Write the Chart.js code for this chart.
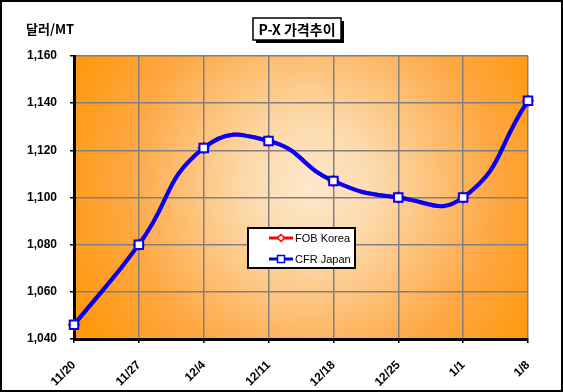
<!DOCTYPE html>
<html>
<head>
<meta charset="utf-8">
<script src="https://cdn.jsdelivr.net/npm/chart.js@4"></script>
<style>
  html, body { margin: 0; padding: 0; background: #fff; }
  #wrap { width: 563px; height: 392px; position: relative; }
</style>
</head>
<body>
<div id="wrap"><canvas id="pxChart" width="563" height="392"></canvas></div>
<script>
// data
const weeks = ["11/20", "11/27", "12/4", "12/11", "12/18", "12/25", "1/1", "1/8"];
const cfrJapan = [1046, 1080, 1121, 1124, 1107, 1100, 1100, 1141];
const fobKorea = [1046, 1080, 1121, 1124, 1107, 1100, 1100, 1141]; // hidden under CFR line
const yTicks = [1040, 1060, 1080, 1100, 1120, 1140, 1160];
const chartTitle = "P-X 가격추이";
const unitLabel = "달러/MT";

// plot background + frame + title + legend
const decorPlugin = {
  id: "decor",
  beforeDraw(chart) {
    const { ctx, chartArea: a } = chart;
    ctx.save();
    ctx.fillStyle = "#fff";
    ctx.fillRect(0, 0, chart.width, chart.height);
    const cx = (a.left + a.right) / 2 + 10, cy = (a.top + a.bottom) / 2 - 10;
    const r = Math.hypot(a.right - a.left, a.bottom - a.top) / 2;
    const g = ctx.createRadialGradient(cx, cy, 0, cx, cy, r);
    g.addColorStop(0, "#fde8cc");
    g.addColorStop(0.25, "#fcd9aa");
    g.addColorStop(0.7, "#fea640");
    g.addColorStop(1, "#ff980a");
    ctx.fillStyle = g;
    ctx.fillRect(a.left, a.top, a.right - a.left, a.bottom - a.top);
    ctx.restore();
  },
  afterDraw(chart) {
    const { ctx } = chart;
    ctx.save();
    // outer frame
    ctx.strokeStyle = "#000";
    ctx.lineWidth = 2;
    ctx.strokeRect(1, 1, chart.width - 2, chart.height - 2);

    // unit label
    ctx.fillStyle = "#000";
    ctx.font = "bold 13px 'Noto Sans CJK KR', 'Liberation Sans', sans-serif";
    ctx.textBaseline = "middle";
    ctx.textAlign = "left";
    ctx.fillText(unitLabel, 26, 29);

    // title box with shadow
    const tx = 253, ty = 18, tw = 88, th = 22;
    ctx.fillStyle = "#000";
    ctx.fillRect(tx + 3, ty + 3, tw, th);
    ctx.fillStyle = "#fff";
    ctx.fillRect(tx, ty, tw, th);
    ctx.lineWidth = 1.5;
    ctx.strokeRect(tx, ty, tw, th);
    ctx.fillStyle = "#000";
    ctx.font = "bold 14px 'Noto Sans CJK KR', 'Liberation Sans', sans-serif";
    ctx.textAlign = "center";
    ctx.fillText(chartTitle, tx + tw / 2, ty + th / 2 + 1);

    // legend box
    const lx = 248, ly = 228, lw = 107, lh = 40;
    ctx.fillStyle = "#fff";
    ctx.fillRect(lx, ly, lw, lh);
    ctx.strokeStyle = "#000";
    ctx.lineWidth = 2;
    ctx.strokeRect(lx, ly, lw, lh);
    const items = chart.data.datasets;
    items.forEach((ds, i) => {
      const y = ly + 10 + i * 21;
      ctx.strokeStyle = ds.borderColor;
      ctx.lineWidth = 3;
      ctx.beginPath();
      ctx.moveTo(lx + 21, y);
      ctx.lineTo(lx + 45, y);
      ctx.stroke();
      ctx.fillStyle = "#fff";
      ctx.lineWidth = 1.5;
      const mx = lx + 33;
      if (ds.pointStyle === "rectRot") {
        ctx.beginPath();
        ctx.moveTo(mx, y - 3.5); ctx.lineTo(mx + 3.5, y); ctx.lineTo(mx, y + 3.5); ctx.lineTo(mx - 3.5, y);
        ctx.closePath();
        ctx.fill(); ctx.stroke();
      } else {
        ctx.fillRect(mx - 3.5, y - 3.5, 7, 7);
        ctx.strokeRect(mx - 3.5, y - 3.5, 7, 7);
      }
      ctx.fillStyle = "#000";
      ctx.font = "11px 'Liberation Sans', Arial, sans-serif";
      ctx.textAlign = "left";
      ctx.fillText(ds.label, lx + 47, y + 1);
    });
    ctx.restore();
  }
};

const ctx = document.getElementById("pxChart").getContext("2d");
new Chart(ctx, {
  type: "line",
  data: {
    labels: weeks,
    datasets: [
      {
        label: "FOB Korea",
        data: fobKorea,
        borderColor: "#ff0000",
        backgroundColor: "#fff",
        borderWidth: 4,
        pointStyle: "rectRot",
        pointRadius: 5,
        pointBorderWidth: 2,
        tension: 0.5,
        order: 2
      },
      {
        label: "CFR Japan",
        data: cfrJapan,
        borderColor: "#0000ff",
        backgroundColor: "#fff",
        borderWidth: 4,
        pointStyle: "rect",
        pointRadius: 6,
        pointBorderWidth: 2,
        tension: 0.5,
        order: 1
      }
    ]
  },
  options: {
    responsive: false,
    animation: false,
    layout: { padding: { left: 0, right: 35, top: 56, bottom: 0 } },
    plugins: {
      legend: { display: false },
      title: { display: false },
      tooltip: { enabled: false }
    },
    scales: {
      x: {
        offset: false,
        afterFit: (scale) => { scale.height = 53; },
        grid: { color: "#808080", lineWidth: 1.5, tickColor: "#000", tickLength: 4 },
        border: { color: "#000", width: 3 },
        ticks: {
          color: "#000",
          font: { family: "'Liberation Sans', Arial, sans-serif", size: 12, weight: "bold" },
          minRotation: 45,
          maxRotation: 45,
          padding: 15,
          autoSkip: false
        }
      },
      y: {
        min: yTicks[0],
        max: yTicks[yTicks.length - 1],
        afterFit: (scale) => { scale.width = 74; },
        afterBuildTicks: (scale) => { scale.ticks = yTicks.map(v => ({ value: v })); },
        grid: { color: "#808080", lineWidth: 1.5, tickColor: "#000", tickLength: 4 },
        border: { color: "#000", width: 3 },
        ticks: {
          color: "#000",
          font: { family: "'Liberation Sans', Arial, sans-serif", size: 12, weight: "bold" },
          padding: 13,
          callback: (v) => v.toLocaleString("en-US")
        }
      }
    }
  },
  plugins: [decorPlugin]
});
</script>
</body>
</html>
